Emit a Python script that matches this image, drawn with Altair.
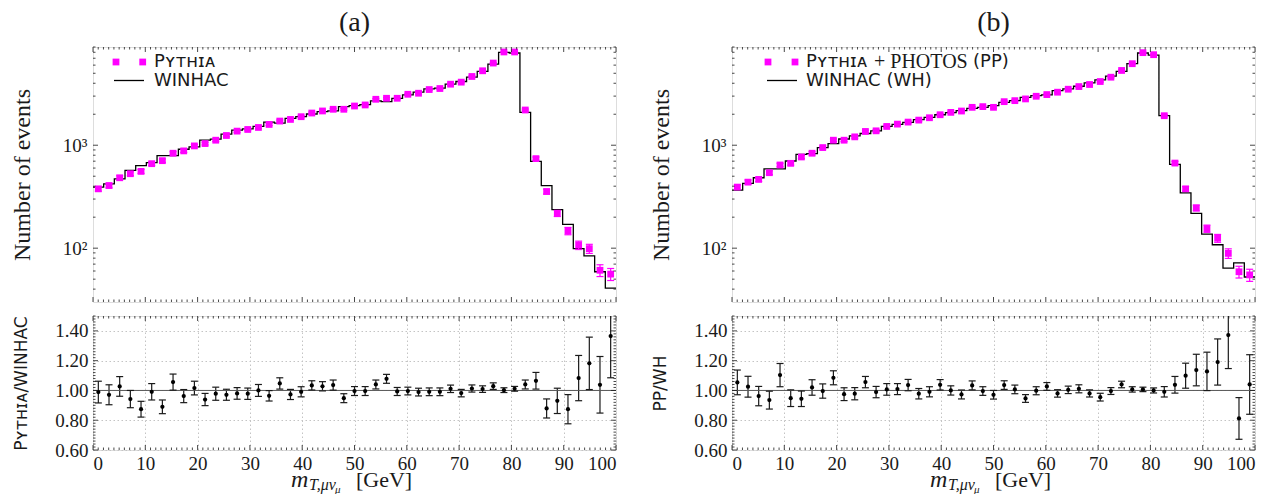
import altair as alt
import pandas as pd

# ---------------- data ----------------
N_BINS = 49
X_MAX = 100.0

pythia_a = [377, 406, 483, 529, 557, 662, 708, 836, 881, 985,
            1038, 1119, 1243, 1371, 1423, 1488, 1592, 1717, 1781, 1893,
            2055, 2152, 2235, 2235, 2404, 2461, 2795, 2858, 2858, 3127,
            3200, 3475, 3555, 3918, 4100, 4654, 5287, 6285, 8054, 8054,
            2199, 741, 355, 218, 147, 107, 99, 61, 56]
pythia_err_a = [19, 20, 22, 23, 24, 26, 27, 29, 30, 31,
                32, 33, 35, 37, 38, 39, 40, 41, 42, 43,
                45, 46, 47, 47, 49, 50, 53, 53, 53, 56,
                57, 59, 60, 63, 64, 68, 73, 79, 90, 90,
                47, 27, 19, 15, 12, 10, 10, 8, 7.5]
winhac_a = [392, 422, 472, 570, 633, 677, 793, 793, 914, 963,
            1119, 1145, 1281, 1402, 1445, 1522, 1678, 1641, 1822, 1893,
            2010, 2119, 2152, 2372, 2424, 2480, 2692, 2654, 2858, 3082,
            3273, 3527, 3581, 3918, 4158, 4584, 5207, 6145, 7993, 7867,
            2084, 698, 406, 237, 170, 99, 84, 59, 41]
ratio_a = [0.989, 0.971, 1.027, 0.942, 0.874, 0.991, 0.890, 1.056, 0.962, 1.016,
           0.939, 0.978, 0.971, 0.980, 0.978, 1.000, 0.964, 1.047, 0.973, 0.991,
           1.034, 1.028, 1.036, 0.948, 0.996, 0.996, 1.040, 1.078, 0.993, 0.996,
           0.989, 0.991, 0.991, 1.011, 0.982, 1.013, 1.009, 1.029, 1.002, 1.011,
           1.040, 1.065, 0.879, 0.930, 0.874, 1.083, 1.182, 1.038, 1.365]
ratio_err_a = [0.073, 0.067, 0.066, 0.058, 0.053, 0.055, 0.046, 0.054, 0.044, 0.046,
               0.041, 0.044, 0.037, 0.039, 0.038, 0.040, 0.035, 0.038, 0.034, 0.034,
               0.031, 0.031, 0.034, 0.030, 0.030, 0.030, 0.030, 0.030, 0.027, 0.026,
               0.026, 0.026, 0.026, 0.025, 0.025, 0.024, 0.022, 0.022, 0.016, 0.016,
               0.030, 0.056, 0.064, 0.085, 0.098, 0.152, 0.176, 0.190, 0.280]

pythia_b = [392, 438, 466, 541, 643, 667, 769, 836, 949, 1119,
            1119, 1206, 1361, 1380, 1522, 1604, 1678, 1754, 1849, 1978,
            2086, 2149, 2334, 2371, 2334, 2650, 2711, 2817, 2990, 3105,
            3275, 3500, 3714, 3890, 4158, 4581, 5325, 6196, 7930, 7577,
            1935, 671, 377, 246, 155, 125, 89, 59, 55]
pythia_err_b = [20, 21, 22, 23, 25, 26, 28, 29, 31, 33,
                33, 35, 37, 37, 39, 40, 41, 42, 43, 44,
                46, 46, 48, 49, 48, 51, 52, 53, 55, 56,
                57, 59, 61, 62, 64, 68, 73, 79, 89, 87,
                44, 26, 19, 16, 12.5, 11, 9.5, 7.7, 7.4]
winhac_b = [366, 426, 483, 588, 588, 703, 816, 829, 949, 1038,
            1150, 1234, 1300, 1380, 1522, 1593, 1665, 1770, 1864, 1978,
            2070, 2166, 2282, 2334, 2422, 2612, 2711, 2923, 3035, 3082,
            3398, 3527, 3742, 4034, 4318, 4690, 5210, 6196, 7871, 7520,
            1935, 652, 344, 218, 137, 108, 64, 72, 52.5]
ratio_b = [1.054, 1.025, 0.962, 0.935, 1.103, 0.948, 0.944, 1.020, 0.996, 1.085,
           0.975, 0.978, 1.056, 0.989, 1.007, 1.009, 1.036, 0.978, 0.991, 1.038,
           1.000, 0.973, 1.034, 0.996, 0.971, 1.036, 1.007, 0.946, 0.998, 1.027,
           0.980, 1.004, 1.011, 0.980, 0.955, 0.996, 1.040, 1.007, 1.007, 1.000,
           0.991, 1.038, 1.099, 1.137, 1.128, 1.191, 1.372, 0.812, 1.040]
ratio_err_b = [0.083, 0.070, 0.065, 0.060, 0.078, 0.056, 0.052, 0.052, 0.048, 0.047,
               0.043, 0.041, 0.038, 0.038, 0.039, 0.037, 0.038, 0.035, 0.034, 0.035,
               0.031, 0.030, 0.030, 0.029, 0.029, 0.029, 0.029, 0.026, 0.027, 0.026,
               0.025, 0.025, 0.027, 0.024, 0.026, 0.023, 0.022, 0.018, 0.015, 0.017,
               0.035, 0.056, 0.084, 0.106, 0.129, 0.155, 0.225, 0.140, 0.200]

x_major = [0, 10, 20, 30, 40, 50, 60, 70, 80, 90, 100]
x_minor = [v for v in range(1, 100) if v % 10 != 0]
log_major = [100, 1000]
log_minor = [40, 50, 60, 70, 80, 90, 200, 300, 400, 500, 600, 700, 800, 900,
             2000, 3000, 4000, 5000, 6000, 7000, 8000, 9000]
ratio_major = [0.6, 0.8, 1.0, 1.2, 1.4]
ratio_minor = [round(0.6 + 0.02 * k, 2) for k in range(46)
               if round(0.6 + 0.02 * k, 2) not in ratio_major]

# ---------------- style ----------------
W, H_TOP, H_BOT = 523, 255, 134
MAGENTA = '#ff00ff'
SERIF = 'Liberation Serif'
SANS = 'DejaVu Sans'
INK = '#1a1a1a'

bw = X_MAX / N_BINS
centers = [(i + 0.5) * bw for i in range(N_BINS)]
edges = [i * bw for i in range(N_BINS + 1)]

xs = alt.Scale(domain=[0, X_MAX], nice=False, zero=False)
ys_top = alt.Scale(type='log', domain=[30, 9000], nice=False)
ys_bot = alt.Scale(domain=[0.6, 1.5], nice=False, zero=False)


def frame_ticks(X, Y, xmaj, xmin, ymaj, ymin, h):
    layers = []
    for vals, ln in ((xmaj, 5), (xmin, 2.5)):
        base = alt.Chart(pd.DataFrame({'v': vals})).mark_rule(color=INK, strokeWidth=0.8)
        layers.append(base.encode(x=X('v'), y=alt.value(0), y2=alt.value(ln)))
        layers.append(base.encode(x=X('v'), y=alt.value(h), y2=alt.value(h - ln)))
    for vals, ln in ((ymaj, 5), (ymin, 2.5)):
        base = alt.Chart(pd.DataFrame({'v': vals})).mark_rule(color=INK, strokeWidth=0.8)
        layers.append(base.encode(y=Y('v'), x=alt.value(0), x2=alt.value(ln)))
        layers.append(base.encode(y=Y('v'), x=alt.value(W), x2=alt.value(W - ln)))
    return layers


def txt(label, x, y, font, size, style='normal', align='left', baseline='middle'):
    return alt.Chart(pd.DataFrame({'t': [label]})).mark_text(
        align=align, baseline=baseline, font=font, fontSize=size,
        fontStyle=style, color=INK).encode(x=alt.value(x), y=alt.value(y), text='t:N')


def dummy():
    return alt.Chart(pd.DataFrame({'d': [0]}))


def top_panel(pyth, perr, winh, title, legend_layers):
    step = pd.DataFrame({'x': edges, 'y': winh + [winh[-1]]})
    pts = pd.DataFrame({'x': centers, 'y': pyth,
                        'lo': [p - e for p, e in zip(pyth, perr)],
                        'hi': [p + e for p, e in zip(pyth, perr)]})
    yaxis = alt.Axis(values=log_major,
                     labelExpr="datum.value >= 1000 ? '10³' : '10²'",
                     labelFont=SERIF, labelFontSize=19, labelColor=INK,
                     labelPadding=6, ticks=False, tickSize=0, domain=False, grid=False,
                     title='Number of events', titleFont=SERIF, titleFontSize=24,
                     titleFontWeight='normal', titleColor=INK, titleX=-64,
                     titleBaseline='alphabetic')

    def X(f):
        return alt.X(f + ':Q', scale=xs, axis=None)

    def Y(f):
        return alt.Y(f + ':Q', scale=ys_top, axis=yaxis)

    line = alt.Chart(step).mark_line(interpolate='step-after', color='black',
                                     strokeWidth=1.3).encode(x=X('x'), y=Y('y'))
    bars = alt.Chart(pts).mark_rule(color=MAGENTA, strokeWidth=1.2).encode(
        x=X('x'), y=Y('lo'), y2='hi:Q')
    cap_hi = alt.Chart(pts).mark_rule(color=MAGENTA, strokeWidth=1.2,
                                      xOffset=-3.5, x2Offset=3.5).encode(
        x=X('x'), x2='x:Q', y=Y('hi'))
    cap_lo = alt.Chart(pts).mark_rule(color=MAGENTA, strokeWidth=1.2,
                                      xOffset=-3.5, x2Offset=3.5).encode(
        x=X('x'), x2='x:Q', y=Y('lo'))
    squares = alt.Chart(pts).mark_square(color=MAGENTA, size=46, opacity=1).encode(
        x=X('x'), y=Y('y'))
    layers = [line, bars, cap_hi, cap_lo, squares] + \
        frame_ticks(X, Y, x_major, x_minor, log_major, log_minor, H_TOP) + legend_layers
    return alt.layer(*layers).properties(
        width=W, height=H_TOP,
        title=alt.TitleParams(title, font=SERIF, fontSize=28, fontWeight='normal',
                              color=INK, baseline='top', offset=10,
                              anchor='middle'))


def bottom_panel(ratio, rerr, ytitle):
    pts = pd.DataFrame({'x': centers, 'r': ratio,
                        'lo': [r - e for r, e in zip(ratio, rerr)],
                        'hi': [r + e for r, e in zip(ratio, rerr)]})
    xaxis = alt.Axis(values=x_major, format='d', labelFont=SERIF, labelFontSize=19,
                     labelColor=INK, labelPadding=4, ticks=False, tickSize=0,
                     domain=False, grid=True, gridColor='#c4c4c4',
                     gridDash=[1.5, 2.5], gridWidth=1, title=None)
    yaxis = alt.Axis(values=ratio_major, format='.2f', labelFont=SERIF,
                     labelFontSize=19, labelColor=INK, labelPadding=5, ticks=False,
                     tickSize=0, domain=False, grid=True, gridColor='#c4c4c4',
                     gridDash=[1.5, 2.5], gridWidth=1,
                     title=ytitle, titleFont=SANS, titleFontSize=17,
                     titleFontWeight='normal', titleColor=INK, titleX=-67,
                     titleBaseline='alphabetic')

    def X(f):
        return alt.X(f + ':Q', scale=xs, axis=xaxis)

    def Y(f):
        return alt.Y(f + ':Q', scale=ys_bot, axis=yaxis)

    bars = alt.Chart(pts).mark_rule(color=INK, strokeWidth=1.2, clip=True).encode(
        x=X('x'), y=Y('lo'), y2='hi:Q')
    one = alt.Chart(pd.DataFrame({'one': [1.0]})).mark_rule(
        color='#555555', strokeWidth=1).encode(y=Y('one'))
    cap_hi = alt.Chart(pts).mark_rule(color=INK, strokeWidth=1.2, clip=True,
                                      xOffset=-3.5, x2Offset=3.5).encode(
        x=X('x'), x2='x:Q', y=Y('hi'))
    cap_lo = alt.Chart(pts).mark_rule(color=INK, strokeWidth=1.2, clip=True,
                                      xOffset=-3.5, x2Offset=3.5).encode(
        x=X('x'), x2='x:Q', y=Y('lo'))
    dots = alt.Chart(pts).mark_circle(color='black', size=18, opacity=1).encode(
        x=X('x'), y=Y('r'))
    xtitle = [
        txt('m', 198, H_BOT + 37, SERIF, 24, 'italic', baseline='alphabetic'),
        txt('T,μν', 216, H_BOT + 40, SERIF, 16, 'italic', baseline='alphabetic'),
        txt('μ', 242, H_BOT + 43, SERIF, 11, 'italic', baseline='alphabetic'),
        txt('[GeV]', 263, H_BOT + 37, SERIF, 22, baseline='alphabetic'),
    ]
    layers = [bars, one, cap_hi, cap_lo, dots] + \
        frame_ticks(X, Y, x_major, x_minor, ratio_major, ratio_minor, H_BOT) + xtitle
    return alt.layer(*layers).properties(width=W, height=H_BOT)


def legend(sq_x, line_x, text_x, first_labels, second_label, y1=15, y2=33.5):
    layers = []
    for sx in sq_x:
        layers.append(dummy().mark_square(color=MAGENTA, size=46, opacity=1).encode(
            x=alt.value(sx), y=alt.value(y1)))
    layers.append(dummy().mark_rule(color='black', strokeWidth=1.3).encode(
        x=alt.value(line_x[0]), x2=alt.value(line_x[1]), y=alt.value(y2)))
    for label, dx, font, size in first_labels:
        layers.append(txt(label, text_x + dx, y1, font, size))
    layers.append(txt(second_label, text_x, y2, SANS, 18))
    return layers


leg_a = legend([23, 49.7], [21, 51], 61, [('Pʏᴛʜɪᴀ', 0, SANS, 18)], 'WINHAC')
leg_b = legend([36, 63], [35, 65], 74,
               [('Pʏᴛʜɪᴀ', 0, SANS, 18), ('+ PHOTOS', 68, SERIF, 20),
                ('(PP)', 167, SANS, 18)], 'WINHAC (WH)')

panels = [
    top_panel(pythia_a, pythia_err_a, winhac_a, '(a)', leg_a),
    top_panel(pythia_b, pythia_err_b, winhac_b, '(b)', leg_b),
    bottom_panel(ratio_a, ratio_err_a, 'Pʏᴛʜɪᴀ/WINHAC'),
    bottom_panel(ratio_b, ratio_err_b, 'PP/WH'),
]

chart = alt.concat(*panels, columns=2, spacing={'row': 12, 'column': 28}).properties(
    padding={'left': 1, 'top': 0, 'right': 0, 'bottom': 0}
).configure_view(stroke='#111111', strokeWidth=1.1).configure(background='white')

chart.save('out.html', embed_options={'renderer': 'svg', 'actions': False})
